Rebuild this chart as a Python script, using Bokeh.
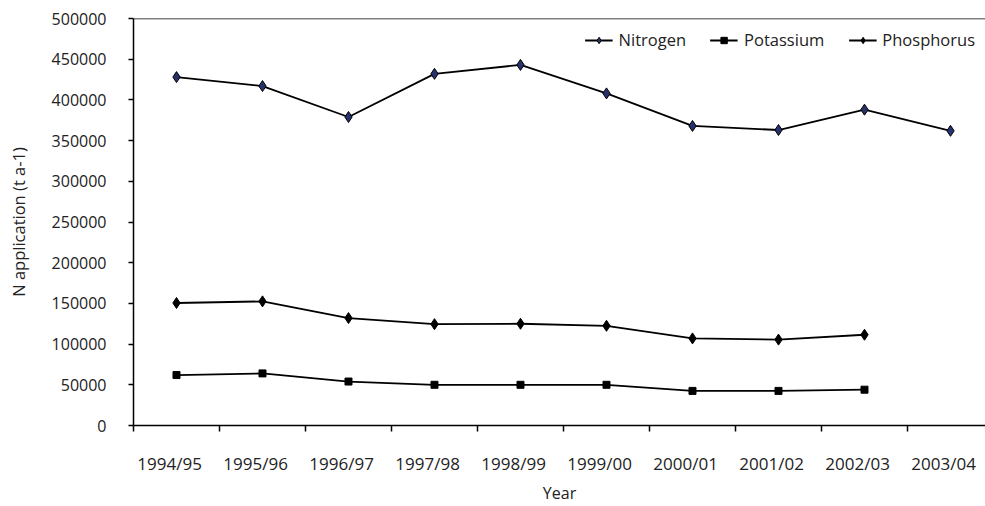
from bokeh.plotting import figure
from bokeh.models import (FixedTicker, Range1d, Span, Legend, LegendItem,
                          NumeralTickFormatter, CustomJSTickFormatter)
from bokeh.embed import file_html
from bokeh.resources import INLINE

# ---- data ----
years = ["1994/95", "1995/96", "1996/97", "1997/98", "1998/99",
         "1999/00", "2000/01", "2001/02", "2002/03", "2003/04"]
nitrogen = [428000, 417000, 379000, 432000, 443000, 408000, 368000, 363000, 388000, 362000]
potassium = [62000, 64000, 54000, 50000, 50000, 50000, 42500, 42500, 44000]
phosphorus = [150500, 152500, 132000, 124500, 125000, 122500, 107000, 105500, 111500]
y_ticks = [0, 50000, 100000, 150000, 200000, 250000, 300000, 350000, 400000, 450000, 500000]

FONT = "Open Sans"
TXT = "#222222"
LABEL_SHIFT = 0.08   # category labels sit slightly left of the points, as in the original

x_all = list(range(len(years)))
x_n = x_all[:len(nitrogen)]
x_k = x_all[:len(potassium)]
x_p = x_all[:len(phosphorus)]

p = figure(width=985, height=506, output_backend="svg", toolbar_location=None,
           x_range=Range1d(-0.5, len(years) - 0.593), y_range=Range1d(y_ticks[0], y_ticks[-1]),
           min_border_left=133, min_border_top=18, min_border_right=0, min_border_bottom=78)

p.background_fill_color = "white"
p.border_fill_color = "white"
p.outline_line_color = None
p.xgrid.visible = False
p.ygrid.visible = False

# top border of the plot area
p.add_layout(Span(location=y_ticks[-1], dimension="width", line_color="black", line_width=1.5))

# ---- series ----
ln_n = p.line(x_n, nitrogen, line_color="black", line_width=1.8)
mk_n = p.scatter(x_n, nitrogen, marker="diamond", size=11, fill_color="#26326b",
                 line_color="black", line_width=1)
ln_k = p.line(x_k, potassium, line_color="black", line_width=1.8)
mk_k = p.scatter(x_k, potassium, marker="square", size=7, fill_color="black", line_color="black")
ln_p = p.line(x_p, phosphorus, line_color="black", line_width=1.8)
mk_p = p.scatter(x_p, phosphorus, marker="diamond", size=11, fill_color="black", line_color="black")

# ---- axes ----
xa = p.xaxis[0]
xa.ticker = FixedTicker(ticks=[i - LABEL_SHIFT for i in x_all],
                        minor_ticks=[i - 0.5 for i in x_all] + [len(years) - 0.5])
xa.formatter = CustomJSTickFormatter(args=dict(years=years),
                                     code="return years[Math.round(tick)] || '';")
xa.major_tick_out = 0
xa.major_tick_in = 0
xa.minor_tick_out = 6
xa.minor_tick_in = 0
xa.minor_tick_line_color = "black"
xa.minor_tick_line_width = 1.5
xa.axis_line_color = "black"
xa.axis_line_width = 1.5
xa.major_label_standoff = 20
xa.major_label_text_font = FONT
xa.major_label_text_font_size = "17px"
xa.major_label_text_color = TXT
xa.axis_label = "Year"
xa.axis_label_text_font = FONT
xa.axis_label_text_font_size = "16px"
xa.axis_label_text_font_style = "normal"
xa.axis_label_text_color = TXT
xa.axis_label_standoff = 4

ya = p.yaxis[0]
ya.ticker = FixedTicker(ticks=y_ticks)
ya.formatter = NumeralTickFormatter(format="0")
ya.major_tick_out = 5
ya.major_tick_in = 0
ya.minor_tick_out = 0
ya.minor_tick_in = 0
ya.major_tick_line_width = 1.5
ya.axis_line_width = 1.5
ya.major_label_standoff = 22
ya.major_label_text_font = FONT
ya.major_label_text_font_size = "16px"
ya.major_label_text_color = TXT
ya.axis_label = "N application (t a-1)"
ya.axis_label_text_font = FONT
ya.axis_label_text_font_size = "16.5px"
ya.axis_label_text_font_style = "normal"
ya.axis_label_text_color = TXT
ya.axis_label_standoff = 19

# ---- legend ----
legend = Legend(items=[
    LegendItem(label="Nitrogen", renderers=[ln_n, mk_n]),
    LegendItem(label="Potassium", renderers=[ln_k, mk_k]),
    LegendItem(label="Phosphorus", renderers=[ln_p, mk_p]),
], orientation="horizontal", location="top_right")
legend.label_text_font = FONT
legend.label_text_font_size = "16.5px"
legend.label_text_color = TXT
legend.border_line_color = None
legend.background_fill_alpha = 0
legend.glyph_width = 28
legend.glyph_height = 16
legend.spacing = 24
legend.label_standoff = 6
legend.margin = 10
legend.padding = 8
p.add_layout(legend)

open("out.html", "w").write(file_html(p, INLINE))
